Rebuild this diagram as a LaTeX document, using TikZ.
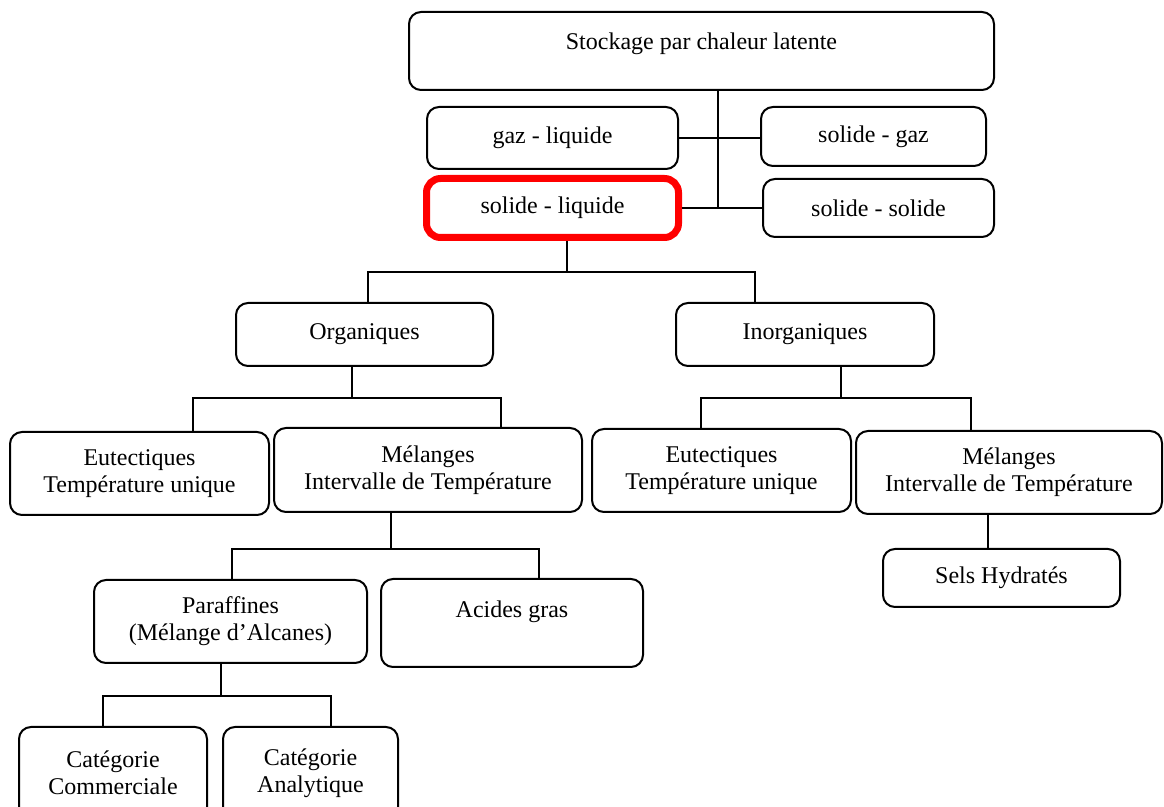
\documentclass[tikz,border=0pt]{standalone}
\usepackage{fontspec}
\setmainfont{Liberation Serif}
\begin{document}
\begin{tikzpicture}[x=0.5pt,y=-0.5pt,
  box/.style={draw, line width=1pt, rounded corners=6pt, align=center,
    inner xsep=0pt, inner ysep=0pt, font=\fontsize{12}{13.5}\selectfont},
  hot/.style={box, draw=red, line width=3.5pt, rounded corners=7pt},
  link/.style={line width=0.9pt}]
\clip (0,0) rectangle (1164,807);

% first level
\node[box, minimum width=292.5pt, minimum height=39pt, text height=19pt, text depth=20pt]
  (top) at (701.5,51) {Stockage par chaleur latente};
\node[box, minimum width=125.5pt, minimum height=31pt] (gl) at (552.5,138) {gaz - liquide};
\node[box, minimum width=112.5pt, minimum height=29.5pt] (sg) at (873.5,136.5) {solide - gaz};
\node[hot, minimum width=126pt, minimum height=29.5pt] (sl) at (552.5,208) {solide - liquide};
\node[box, minimum width=115.5pt, minimum height=29pt] (ss) at (878.5,208) {solide - solide};

% second level
\node[box, minimum width=128.5pt, minimum height=31.5pt] (org) at (364.5,334.5) {Organiques};
\node[box, minimum width=129pt, minimum height=31.5pt] (inorg) at (805,334.5) {Inorganiques};

% third level
\node[box, minimum width=129.5pt, minimum height=41.5pt] (eutL) at (139.5,473.5) {Eutectiques\\Température unique};
\node[box, minimum width=154pt, minimum height=42pt] (melL) at (428,470) {Mélanges\\Intervalle de Température};
\node[box, minimum width=129.5pt, minimum height=41.5pt] (eutR) at (721.5,470.5) {Eutectiques\\Température unique};
\node[box, minimum width=153pt, minimum height=41.5pt] (melR) at (1009,472.5) {Mélanges\\Intervalle de Température};
\node[box, minimum width=118.5pt, minimum height=29pt] (sels) at (1001.5,578) {Sels Hydratés};

% fourth level
\node[box, minimum width=136.5pt, minimum height=41.5pt] (par) at (230.5,621.5) {Paraffines\\(Mélange d’Alcanes)};
\node[box, minimum width=131pt, minimum height=44pt, text height=19.5pt, text depth=24.5pt]
  (acid) at (512,623) {Acides gras};
% the last row runs past the lower edge
\node[box, minimum width=94pt, minimum height=46pt] (catC) at (113,773) {Catégorie\\Commerciale};
\node[box, minimum width=87.5pt, minimum height=46pt] (catA) at (310.5,773) {Catégorie\\Analytique};

% bus points
\coordinate (spine) at (718,209);
\coordinate (b1) at (567,272); \coordinate (l1) at (368,272); \coordinate (r1) at (755,272);
\coordinate (b2) at (352,398); \coordinate (l2) at (193,398); \coordinate (r2) at (501,398);
\coordinate (b3) at (841,398); \coordinate (l3) at (701,398); \coordinate (r3) at (971,398);
\coordinate (b4) at (391,549); \coordinate (l4) at (232,549); \coordinate (r4) at (539,549);
\coordinate (b5) at (221,696); \coordinate (l5) at (103,696); \coordinate (r5) at (331,696);
\coordinate (sx) at (988,530);

% connectors
\draw[link] (top.south -| spine) -- (spine |- sl.east);
\draw[link] (gl.east) -- (gl.east -| sg.west);
\draw[link] (sl.east) -- (sl.east -| ss.west);

\draw[link] (sl.south -| b1) -- (b1);
\draw[link] (org.north -| l1) -- (l1) -- (r1) -- (inorg.north -| r1);

\draw[link] (org.south -| b2) -- (b2);
\draw[link] (eutL.north -| l2) -- (l2) -- (r2) -- (melL.north -| r2);

\draw[link] (inorg.south -| b3) -- (b3);
\draw[link] (eutR.north -| l3) -- (l3) -- (r3) -- (melR.north -| r3);

\draw[link] (melR.south -| sx) -- (sels.north -| sx);

\draw[link] (melL.south -| b4) -- (b4);
\draw[link] (par.north -| l4) -- (l4) -- (r4) -- (acid.north -| r4);

\draw[link] (par.south -| b5) -- (b5);
\draw[link] (catC.north -| l5) -- (l5) -- (r5) -- (catA.north -| r5);
\end{tikzpicture}
\end{document}
